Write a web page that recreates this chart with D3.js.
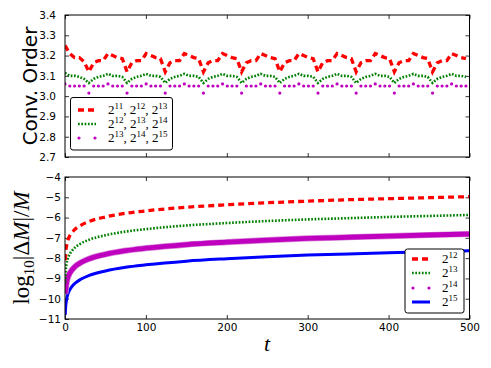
<!DOCTYPE html>
<html>
<head>
<meta charset="utf-8">
<script src="https://cdn.jsdelivr.net/npm/d3@7"></script>
<style>
  body { margin: 0; background: #fff; }
</style>
</head>
<body>
<div id="chart"></div>
<script>
const width = 491, height = 368;

// --- top panel : convergence order, sampled every 5.9 time units
const tOrder = d3.range(85).map(i => i * 5.9);
const order_11_13 = [3.25, 3.21, 3.19, 3.19, 3.17,
  3.12, 3.165, 3.175, 3.175, 3.21, 3.2, 3.19, 3.185,
  3.12, 3.165, 3.175, 3.175, 3.21, 3.2, 3.19, 3.185,
  3.12, 3.165, 3.175, 3.175, 3.21, 3.2, 3.19, 3.185,
  3.12, 3.165, 3.175, 3.175, 3.21, 3.2, 3.19, 3.185,
  3.12, 3.165, 3.175, 3.175, 3.21, 3.2, 3.19, 3.185,
  3.12, 3.165, 3.175, 3.175, 3.21, 3.2, 3.19, 3.185,
  3.12, 3.165, 3.175, 3.175, 3.21, 3.2, 3.19, 3.185,
  3.12, 3.165, 3.175, 3.175, 3.21, 3.2, 3.19, 3.185,
  3.12, 3.165, 3.175, 3.175, 3.21, 3.2, 3.19, 3.185,
  3.12, 3.165, 3.175, 3.175, 3.21, 3.2, 3.19, 3.185];
const order_12_14 = [3.115, 3.1, 3.1, 3.095, 3.085,
  3.065, 3.085, 3.095, 3.1, 3.11, 3.1, 3.1, 3.095,
  3.065, 3.085, 3.095, 3.1, 3.11, 3.1, 3.1, 3.095,
  3.065, 3.085, 3.095, 3.1, 3.11, 3.1, 3.1, 3.095,
  3.065, 3.085, 3.095, 3.1, 3.11, 3.1, 3.1, 3.095,
  3.065, 3.085, 3.095, 3.1, 3.11, 3.1, 3.1, 3.095,
  3.065, 3.085, 3.095, 3.1, 3.11, 3.1, 3.1, 3.095,
  3.065, 3.085, 3.095, 3.1, 3.11, 3.1, 3.1, 3.095,
  3.065, 3.085, 3.095, 3.1, 3.11, 3.1, 3.1, 3.095,
  3.065, 3.085, 3.095, 3.1, 3.11, 3.1, 3.1, 3.095,
  3.065, 3.085, 3.095, 3.1, 3.11, 3.1, 3.1, 3.095];
const order_13_15 = [3.06, 3.05, 3.05, 3.05, 3.05,
  3.015, 3.05, 3.05, 3.05, 3.06, 3.05, 3.05, 3.05,
  3.015, 3.05, 3.05, 3.05, 3.06, 3.05, 3.05, 3.05,
  3.015, 3.05, 3.05, 3.05, 3.06, 3.05, 3.05, 3.05,
  3.015, 3.05, 3.05, 3.05, 3.06, 3.05, 3.05, 3.05,
  3.015, 3.05, 3.05, 3.05, 3.06, 3.05, 3.05, 3.05,
  3.015, 3.05, 3.05, 3.05, 3.06, 3.05, 3.05, 3.05,
  3.015, 3.05, 3.05, 3.05, 3.06, 3.05, 3.05, 3.05,
  3.015, 3.05, 3.05, 3.05, 3.06, 3.05, 3.05, 3.05,
  3.015, 3.05, 3.05, 3.05, 3.06, 3.05, 3.05, 3.05,
  3.015, 3.05, 3.05, 3.05, 3.06, 3.05, 3.05, 3.05];
const orderTicks = [2.7, 2.8, 2.9, 3.0, 3.1, 3.2, 3.3, 3.4];

// --- bottom panel : log10 |dM|/M
const tMass = [0.25, 0.5, 1, 2, 3, 5, 8, 12, 20, 30, 50, 75, 100, 150, 200, 250, 300, 350, 400, 450, 500];
const dm_12 = [-8.1, -7.97, -7.67, -7.37, -7.19, -6.97, -6.77, -6.59, -6.37, -6.19, -5.97, -5.79, -5.67, -5.49, -5.37, -5.27, -5.19, -5.12, -5.07, -5.02, -4.97];
const dm_13 = [-9.2, -8.87, -8.57, -8.27, -8.09, -7.87, -7.67, -7.49, -7.27, -7.09, -6.87, -6.69, -6.57, -6.39, -6.27, -6.17, -6.09, -6.03, -5.97, -5.92, -5.87];
const dm_14 = [-9.75, -9.7, -9.51, -9.21, -9.03, -8.81, -8.61, -8.43, -8.21, -8.03, -7.81, -7.63, -7.51, -7.33, -7.21, -7.11, -7.03, -6.97, -6.91, -6.86, -6.81];
const dm_15 = [-10.8, -10.63, -10.33, -10.03, -9.85, -9.63, -9.43, -9.25, -9.03, -8.85, -8.63, -8.45, -8.33, -8.15, -8.03, -7.93, -7.85, -7.79, -7.73, -7.68, -7.63];
const massTicks = [-11, -10, -9, -8, -7, -6, -5, -4];
const tTicks = [0, 100, 200, 300, 400, 500];

const topLegend = [["11", "12", "13"], ["12", "13", "14"], ["13", "14", "15"]];
const botLegend = [["12"], ["13"], ["14"], ["15"]];

const RED = "#ff0000", GREEN = "#008000", MAG = "#bf00bf", BLUE = "#0000ff";

var svg = d3.select("#chart").append("svg")
  .attr("width", width).attr("height", height)
  .style("font-family", "'DejaVu Sans', sans-serif");

var x = d3.scaleLinear().domain([0, 500]).range([65, 469.5]);
var yTop = d3.scaleLinear().domain([2.7, 3.4]).range([157, 15]);
var yBot = d3.scaleLinear().domain([-11, -4]).range([319, 177]);

// clip paths for both panels
var defs = svg.append("defs");
defs.append("clipPath").attr("id", "clipTop").append("rect")
  .attr("x", 65).attr("y", 15).attr("width", 404.5).attr("height", 142);
defs.append("clipPath").attr("id", "clipBot").append("rect")
  .attr("x", 65).attr("y", 177).attr("width", 404.5).attr("height", 142);

function drawAxes(y, ticks, fmt, showX, pad) {
  var x0 = x.range()[0], x1 = x.range()[1];
  var y0 = y.range()[1], y1 = y.range()[0];
  svg.append("g").attr("transform", "translate(" + x0 + ",0)")
    .call(d3.axisLeft(y).tickValues(ticks).tickFormat(fmt).tickSizeInner(-4).tickSizeOuter(0).tickPadding(pad));
  svg.append("g").attr("transform", "translate(" + x1 + ",0)")
    .call(d3.axisRight(y).tickValues(ticks).tickFormat("").tickSizeInner(-4).tickSizeOuter(0));
  svg.append("g").attr("transform", "translate(0," + y0 + ")")
    .call(d3.axisTop(x).tickValues(tTicks).tickFormat("").tickSizeInner(-4).tickSizeOuter(0));
  svg.append("g").attr("transform", "translate(0," + y1 + ")")
    .call(d3.axisBottom(x).tickValues(tTicks).tickFormat(showX ? d3.format("d") : "").tickSizeInner(-4).tickSizeOuter(0).tickPadding(5));
  svg.selectAll(".domain").remove();
  svg.selectAll(".tick line").attr("stroke", "#000").attr("stroke-width", 0.8);
  svg.selectAll(".tick text").style("font-size", "10.5px").style("font-family", "'DejaVu Sans', sans-serif").attr("fill", "#000");
}

function frame(y) {
  svg.append("rect")
    .attr("x", x.range()[0]).attr("y", y.range()[1])
    .attr("width", x.range()[1] - x.range()[0]).attr("height", y.range()[0] - y.range()[1])
    .attr("fill", "none").attr("stroke", "#000").attr("stroke-width", 1);
}

// ---------------- top panel
drawAxes(yTop, orderTicks, d3.format(".1f"), false, 9);

var gTop = svg.append("g").attr("clip-path", "url(#clipTop)");
var lineTop = d3.line().x((d, i) => x(tOrder[i])).y(d => yTop(d));

gTop.append("path").datum(order_11_13).attr("d", lineTop)
  .attr("fill", "none").attr("stroke", RED).attr("stroke-width", 3.3)
  .attr("stroke-dasharray", "6,4");
gTop.append("path").datum(order_12_14).attr("d", lineTop)
  .attr("fill", "none").attr("stroke", GREEN).attr("stroke-width", 2.6)
  .attr("stroke-dasharray", "1.7,1.6");
gTop.selectAll("circle").data(order_13_15).join("circle")
  .attr("cx", (d, i) => x(tOrder[i])).attr("cy", d => yTop(d))
  .attr("r", 1.6).attr("fill", MAG);
frame(yTop);

svg.append("text")
  .attr("transform", "translate(36.5," + ((yTop.range()[0] + yTop.range()[1]) / 2) + ") rotate(-90)")
  .attr("text-anchor", "middle")
  .style("font-size", "20px")
  .text("Conv. Order");

// ---------------- bottom panel
drawAxes(yBot, massTicks, d3.format("d"), true, 4);

var gBot = svg.append("g").attr("clip-path", "url(#clipBot)");
var lineBot = d3.line().curve(d3.curveMonotoneX).x((d, i) => x(tMass[i])).y(d => yBot(d));

gBot.append("path").datum(dm_15).attr("d", lineBot)
  .attr("fill", "none").attr("stroke", BLUE).attr("stroke-width", 3);
gBot.append("path").datum(dm_14).attr("d", lineBot)
  .attr("fill", "none").attr("stroke", "#d98cd9").attr("stroke-width", 6.2);
gBot.append("path").datum(dm_14).attr("d", lineBot)
  .attr("fill", "none").attr("stroke", MAG).attr("stroke-width", 4.8);
gBot.append("path").datum(dm_13).attr("d", lineBot)
  .attr("fill", "none").attr("stroke", GREEN).attr("stroke-width", 2.6)
  .attr("stroke-dasharray", "1.7,1.6");
gBot.append("path").datum(dm_12).attr("d", lineBot)
  .attr("fill", "none").attr("stroke", RED).attr("stroke-width", 3.3)
  .attr("stroke-dasharray", "6,4");
frame(yBot);

// y label of bottom panel (math style)
var ylab = svg.append("text")
  .attr("transform", "translate(29," + ((yBot.range()[0] + yBot.range()[1]) / 2) + ") rotate(-90)")
  .attr("text-anchor", "middle")
  .style("font-family", "'Liberation Serif', 'DejaVu Serif', serif")
  .style("font-size", "23px");
ylab.append("tspan").text("log");
ylab.append("tspan").attr("dy", 5).style("font-size", "15px").text("10");
ylab.append("tspan").attr("dy", -5).text("|Δ");
ylab.append("tspan").style("font-style", "italic").text("M");
ylab.append("tspan").text("|/");
ylab.append("tspan").style("font-style", "italic").text("M");

svg.append("text")
  .attr("x", 267).attr("y", 351)
  .attr("text-anchor", "middle")
  .style("font-family", "'Liberation Serif', 'DejaVu Serif', serif")
  .style("font-style", "italic")
  .style("font-size", "22px")
  .text("t");

// ---------------- legends
function powLabel(g, exps, tx, ty) {
  var t = g.append("text").attr("x", tx).attr("y", ty)
    .style("font-family", "'Liberation Serif', 'DejaVu Serif', serif")
    .style("font-size", "13px");
  exps.forEach(function (e, k) {
    t.append("tspan").attr("dy", k === 0 ? 0 : 5).text((k === 0 ? "" : ", ") + "2");
    t.append("tspan").attr("dy", -5).style("font-size", "9px").text(e);
  });
}

function legendBox(x0, y0, w, h) {
  svg.append("rect").attr("x", x0).attr("y", y0).attr("width", w).attr("height", h)
    .attr("rx", 2.5).attr("fill", "#fff").attr("stroke", "#000").attr("stroke-width", 1);
}

function sample(kind, x0, x1, yy) {
  if (kind === "dots") {
    svg.append("circle").attr("cx", x0 + 1).attr("cy", yy).attr("r", 1.6).attr("fill", MAG);
    svg.append("circle").attr("cx", x1 - 1).attr("cy", yy).attr("r", 1.6).attr("fill", MAG);
    return;
  }
  var l = svg.append("line").attr("x1", x0).attr("x2", x1).attr("y1", yy).attr("y2", yy);
  if (kind === "dash") l.attr("stroke", RED).attr("stroke-width", 3.3).attr("stroke-dasharray", "6,4");
  if (kind === "dot") l.attr("stroke", GREEN).attr("stroke-width", 2.6).attr("stroke-dasharray", "1.7,1.6");
  if (kind === "solid") l.attr("stroke", BLUE).attr("stroke-width", 3);
}

// top legend
legendBox(70.5, 97.5, 102, 52.5);
var topKinds = ["dash", "dot", "dots"];
var topRows = [110, 124, 138];
topLegend.forEach(function (exps, k) {
  sample(topKinds[k], 78, 96, topRows[k]);
  powLabel(svg, exps, 108, topRows[k] + 4);
});

// bottom legend
legendBox(405, 249, 59, 64);
var botKinds = ["dash", "dot", "dots", "solid"];
var botRows = [259, 273, 288, 302];
botLegend.forEach(function (exps, k) {
  sample(botKinds[k], 412, 430, botRows[k]);
  powLabel(svg, exps, 442, botRows[k] + 4);
});
</script>
</body>
</html>
